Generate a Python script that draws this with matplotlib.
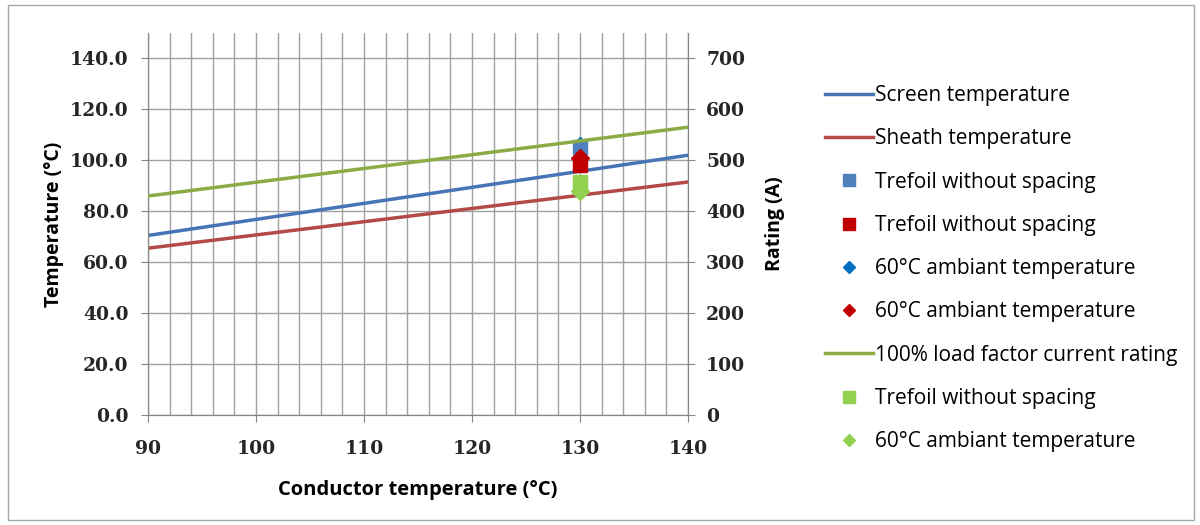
import matplotlib.pyplot as plt
from matplotlib.lines import Line2D
from matplotlib.patches import Rectangle
import numpy as np

# data
cond_temp = [90, 100, 110, 120, 130, 140]
screen_temp = [70.5, 76.8, 83.1, 89.4, 95.7, 102.0]
sheath_temp = [65.5, 70.7, 75.9, 81.1, 86.3, 91.5]
rating = [430, 457, 484, 511, 538, 565]

case_x = [130]
screen_trefoil = [105.2]
sheath_trefoil = [98.3]
screen_60c = [106.3]
sheath_60c = [100.8]
rating_trefoil = [458]
rating_60c = [440]

blue = '#4674b5'
red = '#b24a47'
green = '#8aab45'
sq_blue = '#4f81bd'
sq_red = '#c00000'
dm_blue = '#0070c0'
sq_green = '#92d050'

tick_font = 'DejaVu Serif'
text_font = 'Open Sans'

px = 1/100
fig = plt.figure(figsize=(1200*px, 525*px), dpi=100)
fig.patches.append(Rectangle((8/1200, 5/525), 1186/1200, 515/525, transform=fig.transFigure,
                             fill=False, edgecolor='#a6a6a6', linewidth=1))
ax = fig.add_axes([148/1200, 1 - 415/525, 540/1200, 382/525])
ax2 = ax.twinx()

ax.plot(cond_temp, screen_temp, color=blue, linewidth=2.5, zorder=3)
ax.plot(cond_temp, sheath_temp, color=red, linewidth=2.5, zorder=3)
ax2.plot(cond_temp, rating, color=green, linewidth=2.5, zorder=3)

ax.plot(case_x, screen_60c, 'D', color=dm_blue, markersize=7, zorder=4)
ax.plot(case_x, screen_trefoil, 's', color=sq_blue, markersize=10, zorder=4)
ax.plot(case_x, sheath_trefoil, 's', color=sq_red, markersize=10, zorder=4)
ax.plot(case_x, sheath_60c, 'D', color=sq_red, markersize=9, zorder=4)
ax2.plot(case_x, rating_trefoil, 's', color=sq_green, markersize=10, zorder=4)
ax2.plot(case_x, rating_60c, 'D', color=sq_green, markersize=9, zorder=4)

ax.set_xlim(90, 140)
ax.set_ylim(0, 150)
ax2.set_ylim(0, 750)
ax.set_xticks(np.arange(90, 141, 10))
ax.set_xticks(np.arange(90, 141, 2), minor=True)
ax.set_yticks(np.arange(0, 141, 20))
ax2.set_yticks(np.arange(0, 701, 100))
ax.set_yticklabels(['%.1f' % v for v in np.arange(0, 141, 20)])

ax.grid(True, which='both', axis='x', color='#a0a0a0', linewidth=1)
ax.grid(True, which='major', axis='y', color='#a0a0a0', linewidth=1)
ax.tick_params(axis='x', which='minor', length=0)
ax.tick_params(axis='x', which='major', length=5, color='#868686', labelsize=13.5, pad=13)
ax.tick_params(axis='y', which='major', length=5, color='#868686', labelsize=13.5, pad=9)
ax2.tick_params(axis='y', length=5, color='#868686', labelsize=13.5, pad=8)
ax.set_axisbelow(True)

for a in (ax, ax2):
    a.spines['top'].set_visible(False)
    for s in ('left', 'right', 'bottom'):
        a.spines[s].set_color('#868686')
    for lab in a.get_xticklabels() + a.get_yticklabels():
        lab.set_fontfamily(tick_font)
        lab.set_fontweight('bold')
        lab.set_color('#262626')

ax.set_xlabel('Conductor temperature (°C)', fontfamily=text_font, fontweight='bold',
              fontsize=14.5, labelpad=16)
ax.set_ylabel('Temperature (°C)', fontfamily=text_font, fontweight='bold', fontsize=14, labelpad=4)
ax2.set_ylabel('Rating (A)', fontfamily=text_font, fontweight='bold', fontsize=14, labelpad=14)

handles = [
    Line2D([], [], color=blue, linewidth=2.5),
    Line2D([], [], color=red, linewidth=2.5),
    Line2D([], [], marker='s', color=sq_blue, linestyle='', markersize=9),
    Line2D([], [], marker='s', color=sq_red, linestyle='', markersize=9),
    Line2D([], [], marker='D', color=dm_blue, linestyle='', markersize=6),
    Line2D([], [], marker='D', color=sq_red, linestyle='', markersize=6),
    Line2D([], [], color=green, linewidth=2.5),
    Line2D([], [], marker='s', color=sq_green, linestyle='', markersize=9),
    Line2D([], [], marker='D', color=sq_green, linestyle='', markersize=6),
]
labels = ['Screen temperature', 'Sheath temperature', 'Trefoil without spacing',
          'Trefoil without spacing', '60°C ambiant temperature', '60°C ambiant temperature',
          '100% load factor current rating', 'Trefoil without spacing', '60°C ambiant temperature']
fig.legend(handles, labels, loc='upper left', bbox_to_anchor=(825/1200, 1 - 85/525),
           frameon=False, prop={'family': text_font, 'size': 15},
           handlelength=2.3, handletextpad=0.12, labelspacing=1.07, borderaxespad=0,
           borderpad=0)

fig.savefig('out.png', dpi=100)
